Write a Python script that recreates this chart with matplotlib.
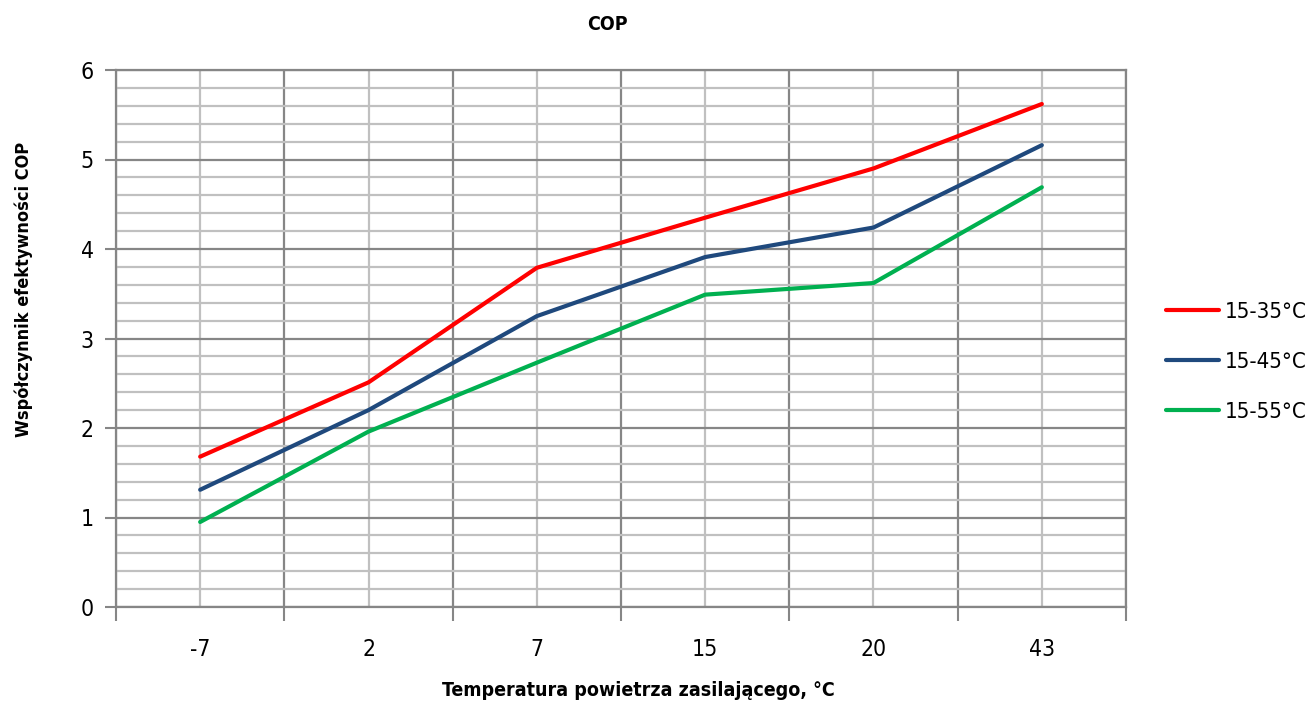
import numpy as np
import matplotlib.pyplot as plt
from matplotlib.ticker import MultipleLocator, FixedLocator, NullFormatter

plt.rcParams['font.family'] = ['DejaVu Sans Condensed', 'DejaVu Sans']
plt.rcParams['font.stretch'] = 'condensed'

# data
temps = ['-7', '2', '7', '15', '20', '43']
cop_35 = [1.68, 2.51, 3.79, 4.35, 4.90, 5.62]
cop_45 = [1.31, 2.20, 3.25, 3.91, 4.24, 5.16]
cop_55 = [0.95, 1.96, 2.73, 3.49, 3.62, 4.69]
series_names = ['15-35°C', '15-45°C', '15-55°C']

dark = '#868686'
light = '#c0c0c0'

fig = plt.figure(figsize=(13.06, 7.03), dpi=100)
ax = fig.add_axes([116 / 1306, 1 - 607 / 703, 1010 / 1306, 537 / 703])

x = np.arange(len(temps))
ax.plot(x, cop_35, color='#ff0000', lw=3, label=series_names[0], solid_capstyle='round', zorder=3)
ax.plot(x, cop_45, color='#1f497d', lw=3, label=series_names[1], solid_capstyle='round', zorder=3)
ax.plot(x, cop_55, color='#00b050', lw=3, label=series_names[2], solid_capstyle='round', zorder=3)

ax.set_xlim(-0.5, len(temps) - 0.5)
ax.set_ylim(0, 6)

# x axis: boundaries are major (dark), category centres are minor (light, labelled)
ax.xaxis.set_major_locator(FixedLocator(np.arange(-0.5, len(temps), 1.0)))
ax.xaxis.set_major_formatter(NullFormatter())
ax.xaxis.set_minor_locator(FixedLocator(x))
ax.set_xticklabels(temps, minor=True)
ax.tick_params(axis='x', which='major', length=10, width=1.5, color=dark)
ax.tick_params(axis='x', which='minor', length=0, pad=22, labelsize=16.5)

# y axis
ax.yaxis.set_major_locator(MultipleLocator(1))
ax.yaxis.set_minor_locator(MultipleLocator(0.2))
ax.tick_params(axis='y', which='major', length=8, width=1.5, color=dark, labelsize=16.5, pad=8)
ax.tick_params(axis='y', which='minor', length=0)

ax.grid(True, which='major', color=dark, lw=1.6)
ax.grid(True, which='minor', color=light, lw=1.6)
ax.set_axisbelow(True)

for s in ax.spines.values():
    s.set_color(dark)
    s.set_linewidth(1.6)

fig.text(607 / 1306, 1 - 25 / 703, 'COP', ha='center', va='center', fontsize=14, fontweight='bold')
fig.text(638 / 1306, 1 - 690 / 703, 'Temperatura powietrza zasilającego, °C',
         ha='center', va='center', fontsize=14, fontweight='bold')
fig.text(24 / 1306, 1 - 289 / 703, 'Współczynnik efektywności COP', ha='center', va='center',
         rotation=90, fontsize=13, fontweight='bold')

fig.legend(loc='center left', bbox_to_anchor=(1166 / 1306, 1 - 362 / 703), frameon=False,
           fontsize=16, handlelength=2.4, handletextpad=0.25, labelspacing=1.35,
           borderpad=0, borderaxespad=0)

fig.savefig('out.png', dpi=100)
